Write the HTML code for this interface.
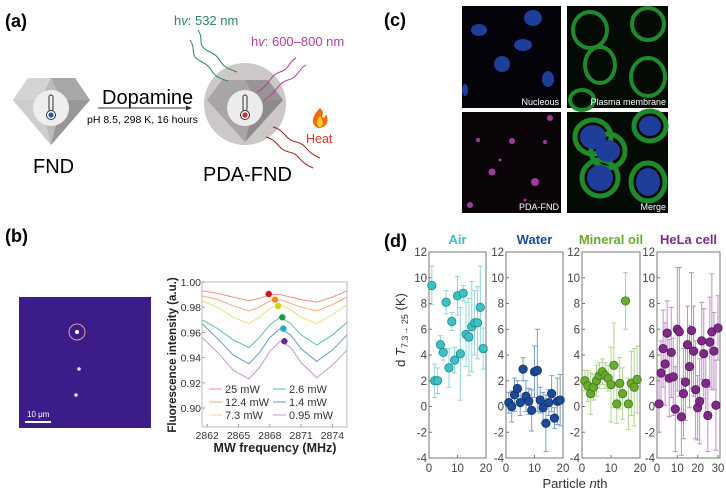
<!DOCTYPE html>
<html><head><meta charset="utf-8"><style>
body{margin:0;background:#fff;}
svg{display:block;font-family:"Liberation Sans",Arial,sans-serif;}
</style></head><body>
<svg id="fig" width="726" height="495" viewBox="0 0 726 495">
<!-- Panel (a) -->
<g>
<text x="5" y="27" font-size="18" font-weight="bold">(a)</text>
<g>
<polygon points="28,78 75,78 90,100 51,145 13,100" fill="#bdbbba"/>
<polygon points="28,78 51,78 40,100 13,100" fill="#d6d4d3"/>
<polygon points="51,78 75,78 90,100 62,100" fill="#a9a7a6"/>
<polygon points="13,100 51,145 40,100" fill="#cfcdcc"/>
<polygon points="62,100 90,100 51,145" fill="#999796"/>
<circle cx="51" cy="108" r="18" fill="#eeeeee"/>
<rect x="49" y="95" width="4" height="16" rx="2" fill="none" stroke="#333" stroke-width="1"/>
<circle cx="51" cy="115" r="4.5" fill="#fff" stroke="#333"/>
<circle cx="51" cy="115" r="2.6" fill="#1f5fb0"/>
</g>
<text x="33" y="173" font-size="20">FND</text>
<text x="102" y="104" font-size="20">Dopamine</text>
<line x1="98" y1="108" x2="190" y2="108" stroke="#333" stroke-width="1"/>
<polygon points="192,108 186,105.5 186,110.5" fill="#333"/>
<text x="87" y="123" font-size="10.5">pH 8.5, 298 K, 16 hours</text>
<g>
<circle cx="245" cy="104" r="41" fill="#cbc8c7"/>
<polygon points="222,80 268,80 283,100 245,142 207,100" fill="#a8a5a4"/>
<polygon points="245,80 268,80 283,100 256,100" fill="#979493"/>
<polygon points="256,100 283,100 245,142" fill="#8d8a89"/>
<circle cx="245" cy="108" r="18" fill="#ececec"/>
<rect x="243" y="95" width="4" height="16" rx="2" fill="none" stroke="#333"/>
<circle cx="245" cy="115" r="4.5" fill="#fff" stroke="#333"/>
<circle cx="245" cy="115" r="2.6" fill="#e0202a"/>
</g>
<text x="203" y="181" font-size="20">PDA-FND</text>
<text x="174" y="25" font-size="13" fill="#2a8a5a">h<tspan font-style="italic">v</tspan>: 532 nm</text>
<text x="251" y="46" font-size="13" fill="#b0409c">h<tspan font-style="italic">v</tspan>: 600–800 nm</text>
<path d="M198,30 C205,40 195,45 210,52 S215,65 237,72" fill="none" stroke="#2a8a5a" stroke-width="1"/>
<path d="M190,40 C197,50 188,55 202,62 S207,75 228,81" fill="none" stroke="#2a8a5a" stroke-width="1"/>
<path d="M257,92 C270,85 270,75 280,72 S288,62 296,58" fill="none" stroke="#b0409c" stroke-width="1"/>
<path d="M264,100 C277,93 277,83 288,80 S297,70 306,65" fill="none" stroke="#b0409c" stroke-width="1"/>
<path d="M273,127 C285,130 285,140 296,142 S305,152 320,158" fill="none" stroke="#a02020" stroke-width="1"/>
<path d="M266,137 C278,140 278,150 289,152 S298,162 313,168" fill="none" stroke="#a02020" stroke-width="1"/>
<path d="M320,108 C312,116 310,124 318,128 C326,128 330,122 326,114 C325,118 323,119 322,116 C324,112 322,110 320,108Z" fill="#f06a10"/>
<path d="M319,127 C315,122 318,119 320,116 C322,120 325,122 321,127Z" fill="#ffd020"/>
<text x="306" y="143" font-size="12.5" fill="#e03030">Heat</text>
</g>
<!-- Panel (c) -->
<g>
<text x="384" y="26" font-size="18" font-weight="bold">(c)</text>
<g>
<rect x="462" y="6" width="99" height="102" fill="#05030a"/>
<g fill="#1e3e9a">
<ellipse cx="479" cy="30" rx="8" ry="6"/>
<ellipse cx="533" cy="18" rx="9" ry="8"/>
<ellipse cx="523" cy="45" rx="9" ry="6"/>
<ellipse cx="502" cy="64" rx="8" ry="8"/>
<ellipse cx="548" cy="79" rx="6" ry="8"/>
<ellipse cx="465" cy="90" rx="3" ry="6"/>
</g>
<text x="559" y="105" font-size="9" fill="#fff" text-anchor="end">Nucleous</text>
</g>
<g>
<rect x="567" y="6" width="101" height="102" fill="#040a04"/>
<g fill="none" stroke="#1f8a2c" stroke-width="4">
<ellipse cx="590" cy="30" rx="17" ry="18"/>
<ellipse cx="648" cy="24" rx="16" ry="16"/>
<ellipse cx="600" cy="65" rx="15" ry="18"/>
<ellipse cx="648" cy="77" rx="17" ry="19"/>
<ellipse cx="582" cy="100" rx="12" ry="10"/>
</g>
<text x="666" y="105" font-size="9" fill="#fff" text-anchor="end">Plasma membrane</text>
</g>
<g>
<rect x="462" y="112" width="99" height="101" fill="#0a0308"/>
<g fill="#a03aa0">
<circle cx="550" cy="118" r="3"/><circle cx="478" cy="140" r="2"/><circle cx="512" cy="141" r="3"/>
<circle cx="545" cy="142" r="2"/><circle cx="492" cy="172" r="3.5"/><circle cx="535" cy="182" r="4"/>
<circle cx="470" cy="205" r="3"/><circle cx="500" cy="160" r="1.5"/><circle cx="525" cy="200" r="1.5"/>
</g>
<text x="559" y="210" font-size="9" fill="#fff" text-anchor="end">PDA-FND</text>
</g>
<g>
<rect x="567" y="112" width="101" height="101" fill="#040a04"/>
<g fill="none" stroke="#1f8a2c" stroke-width="5">
<ellipse cx="593" cy="137" rx="18" ry="17"/>
<ellipse cx="650" cy="126" rx="16" ry="15"/>
<ellipse cx="608" cy="151" rx="17" ry="17"/>
<ellipse cx="600" cy="178" rx="18" ry="18"/>
<ellipse cx="648" cy="182" rx="17" ry="19"/>
</g>
<g fill="#1e3e9a">
<ellipse cx="593" cy="137" rx="13" ry="12"/><ellipse cx="650" cy="126" rx="11" ry="10"/>
<ellipse cx="608" cy="151" rx="12" ry="11"/><ellipse cx="600" cy="178" rx="13" ry="13"/>
<ellipse cx="648" cy="182" rx="12" ry="14"/>
</g>
<text x="666" y="210" font-size="9" fill="#fff" text-anchor="end">Merge</text>
</g>
</g>
<!-- Panel (b) -->
<g>
<text x="5" y="242" font-size="18" font-weight="bold">(b)</text>
<g>
<rect x="19" y="297" width="132" height="131" fill="#3b1c88"/>
<circle cx="77" cy="332" r="8" fill="none" stroke="#e89a9a" stroke-width="1"/>
<circle cx="77" cy="332" r="2" fill="#fff"/>
<circle cx="79" cy="369" r="1.8" fill="#e8d8ff"/>
<circle cx="76" cy="395" r="1.8" fill="#e8d8ff"/>
<rect x="25" y="421" width="26" height="2" fill="#fff"/>
<text x="27" y="417" font-size="8" fill="#fff">10 μm</text>
</g>
<g id="spec"></g>
</g>
<!-- Panel (d) -->
<g>
<text x="384" y="247" font-size="18" font-weight="bold">(d)</text>
<text transform="translate(405,330) rotate(-90)" font-size="13" fill="#333" text-anchor="middle">d <tspan font-style="italic">T</tspan><tspan font-size="9" dy="3">7.3→ 25</tspan><tspan dy="-3"> (K)</tspan></text>
<text x="575" y="488" font-size="13" fill="#333" text-anchor="middle">Particle <tspan font-style="italic">n</tspan>th</text>
<g id="dpanels"></g>
</g>
</svg>
<script>
const NS="http://www.w3.org/2000/svg";
// ---- spectrum data (panel b) ----
const specFreq=[2861.5,2863,2864.5,2866,2867,2868,2869,2870,2871,2872.5,2874,2875.4];
const s25=[0.993,0.991,0.988,0.985,0.987,0.990,0.990,0.988,0.986,0.984,0.988,0.993];
const s12=[0.989,0.986,0.981,0.977,0.980,0.985,0.986,0.983,0.980,0.977,0.982,0.988];
const s7=[0.985,0.980,0.972,0.967,0.972,0.979,0.982,0.978,0.972,0.967,0.974,0.982];
const s26=[0.970,0.963,0.954,0.948,0.956,0.966,0.972,0.967,0.958,0.950,0.958,0.968];
const s14=[0.967,0.955,0.942,0.935,0.944,0.956,0.963,0.958,0.947,0.937,0.946,0.958];
const s095=[0.956,0.944,0.930,0.923,0.932,0.945,0.953,0.948,0.936,0.924,0.934,0.946];
const specLabels=["25 mW","12.4 mW","7.3 mW","2.6 mW","1.4 mW","0.95 mW"];
const dotFreq=[2867.9,2868.5,2868.8,2869.2,2869.3,2869.4];
const dotVal=[0.9905,0.986,0.981,0.972,0.963,0.953];
const specXTicks=[2862,2865,2868,2871,2874];
const specYTicks=[0.90,0.92,0.94,0.96,0.98,1.00];
// ---- panel d data ----
const airVal=[9.4,2.0,2.0,4.8,4.2,8.1,3.0,6.6,3.6,8.6,4.1,8.8,5.6,5.4,6.2,6.5,6.5,7.7,4.5];
const airErr=[1.5,1.3,1.0,0.7,0.6,0.9,1.5,0.7,1.0,1.5,3.6,0.6,2.5,3.0,3.5,2.5,2.8,3.2,1.6];
const waterVal=[0.3,0.0,0.9,1.4,0.3,2.9,0.8,0.4,-0.3,2.7,2.8,0.5,-0.1,-1.3,0.3,1.0,-0.9,0.4,0.5];
const waterErr=[0.8,1.2,1.3,0.6,1.0,0.9,1.2,1.0,1.6,2.0,3.2,1.0,1.2,2.2,1.0,1.4,0.8,1.8,2.0];
const oilVal=[2.0,1.6,1.0,1.5,2.0,2.4,2.7,2.4,2.2,1.7,3.2,0.2,1.8,1.0,8.2,0.2,1.8,1.5,2.1];
const oilErr=[0.8,1.2,1.6,1.0,1.2,1.0,1.0,1.0,1.0,2.9,3.3,1.5,2.0,2.0,2.2,2.0,2.5,3.0,2.6];
const helaVal=[0.2,2.6,4.5,3.3,5.7,2.2,4.2,2.3,-0.2,6.0,5.8,-0.8,1.0,1.9,4.8,3.1,5.9,4.3,1.3,-0.1,0.4,5.1,4.1,1.8,-0.7,5.0,5.8,4.3,0.1,6.1];
const helaErr=[2.2,2.5,3.0,3.2,2.5,3.0,3.5,3.0,3.3,4.8,5.0,3.0,3.5,3.0,3.0,3.2,4.5,3.5,3.8,2.5,3.3,3.0,3.5,2.5,2.8,3.5,4.5,3.0,3.5,2.5];
const dYTicks=[-4,-2,0,2,4,6,8,10,12];

function mk(tag,attrs,parent){const e=document.createElementNS(NS,tag);for(const k in attrs)e.setAttribute(k,attrs[k]);parent.appendChild(e);return e;}

// spectrum chart
(function(){
const g=document.getElementById('spec');
const L=202,R=347,T=282,B=427;
const fx=f=>L+(f-2861.5)*(R-L)/(2875.4-2861.5);
const fy=v=>T+(1.0-v)*1260;
const series=[s25,s12,s7,s26,s14,s095];
const lineCols=["#f09090","#f4aa80","#eedc80","#5cbf9a","#6a98cc","#c498cc"];
const dotCols=["#d8141c","#f08a18","#d8d018","#1a9a3a","#18a8d8","#6a2890"];
const frame=mk('rect',{x:L,y:T,width:R-L,height:B-T,fill:'none',stroke:'#bbb','stroke-width':1},g);


specYTicks.forEach(t=>{
 const y=fy(t);
 mk('line',{x1:L,y1:y,x2:L+3,y2:y,stroke:'#999'},g);
 const tx=mk('text',{x:L-1,y:y+4,'font-size':10.5,'text-anchor':'end',fill:'#333'},g);
 tx.textContent=t.toFixed(2);
 
 
});
specXTicks.forEach(t=>{
 const x=fx(t);
 mk('line',{x1:x,y1:B,x2:x,y2:B-3,stroke:'#999'},g);
 const tx=mk('text',{x:x,y:B+12,'font-size':10.5,'text-anchor':'middle',fill:'#333'},g);
 tx.textContent=t;
 
 
});
series.forEach((s,i)=>{
 const p=mk('polyline',{points:s.map((v,j)=>fx(specFreq[j])+','+fy(v)).join(' '),fill:'none',stroke:lineCols[i],'stroke-width':1},g);
 
 
});
dotVal.forEach((v,i)=>{
 const c=mk('circle',{cx:fx(dotFreq[i]),cy:fy(v),r:3.2,fill:dotCols[i]},g);
 
 
});
specLabels.forEach((lab,i)=>{
 const col=i<3?0:1, row=i%3;
 const x=209+col*64, y=393+row*13;
 mk('line',{x1:x,y1:y-4,x2:x+13,y2:y-4,stroke:lineCols[i],'stroke-width':1},g);
 const t=mk('text',{x:x+16,y:y,'font-size':11,fill:'#333'},g);
 t.textContent=lab;
 
 
});
const yl=mk('text',{transform:'translate(176,355) rotate(-90)','font-size':11.5,'font-weight':'bold','text-anchor':'middle',fill:'#222'},g);
yl.textContent='Fluorescence intensity (a.u.)';


const xl=mk('text',{x:275,y:452,'font-size':12.5,'font-weight':'bold','text-anchor':'middle',fill:'#222'},g);
xl.textContent='MW frequency (MHz)';


})();

// panel d
(function(){
const g=document.getElementById('dpanels');
const T=252,B=458;
const fy=v=>T+(12-v)*(B-T)/16;
const panels=[
 {name:'air',title:'Air',vals:airVal,errs:airErr,L:429,R:486,xmax:20,xt:[0,10,20],col:'#3cc0c4',edge:'#1a8a90',ecol:'#8fd8dc'},
 {name:'water',title:'Water',vals:waterVal,errs:waterErr,L:506,R:563,xmax:20,xt:[0,10,20],col:'#1c4a96',edge:'#0e2e6a',ecol:'#7aa0d0'},
 {name:'mineral-oil',title:'Mineral oil',vals:oilVal,errs:oilErr,L:582,R:640,xmax:20,xt:[0,10,20],col:'#6aaa2e',edge:'#3c7a14',ecol:'#b0d490'},
 {name:'hela-cell',title:'HeLa cell',vals:helaVal,errs:helaErr,L:657,R:720,xmax:31,xt:[0,10,20,30],col:'#7e2a86',edge:'#551660',ecol:'#c090c8'}
];
panels.forEach(p=>{
 const fx=n=>p.L+n*(p.R-p.L)/p.xmax;
 const box=mk('rect',{x:p.L,y:T,width:p.R-p.L,height:B-T,fill:'#fff',stroke:'#777','stroke-width':1},g);
 
 
 const tt=mk('text',{x:(p.L+p.R)/2,y:244,'font-size':13,'font-weight':'bold','text-anchor':'middle',fill:p.col},g);
 tt.textContent=p.title;
 
 
 dYTicks.forEach(t=>{
  const y=fy(t);
  mk('line',{x1:p.L,y1:y,x2:p.L+3,y2:y,stroke:'#777'},g);
  const tx=mk('text',{x:p.L-2,y:y+4,'font-size':11.5,'text-anchor':'end',fill:'#444'},g);
  tx.textContent=t;
  
  
 });
 p.xt.forEach(t=>{
  const x=fx(t);
  mk('line',{x1:x,y1:B,x2:x,y2:B-3,stroke:'#777'},g);
  const tx=mk('text',{x:x,y:B+14,'font-size':11.5,'text-anchor':'middle',fill:'#444'},g);
  tx.textContent=t;
  
  
 });
 p.vals.forEach((v,i)=>{
  const x=fx(i+1), e=p.errs[i];
  const y1=Math.max(T,fy(v+e)), y2=Math.min(B,fy(v-e));
  const eb=mk('path',{d:`M${x},${y1}V${y2}M${x-2.5},${y1}H${x+2.5}M${x-2.5},${y2}H${x+2.5}`,stroke:p.ecol,'stroke-width':1,fill:'none'},g);
  
  
 });
 p.vals.forEach((v,i)=>{
  const c=mk('circle',{cx:fx(i+1),cy:fy(v),r:4.2,fill:p.col,stroke:p.edge,'stroke-width':0.8},g);
  
  
 });
});
})();
</script>
</body></html>
